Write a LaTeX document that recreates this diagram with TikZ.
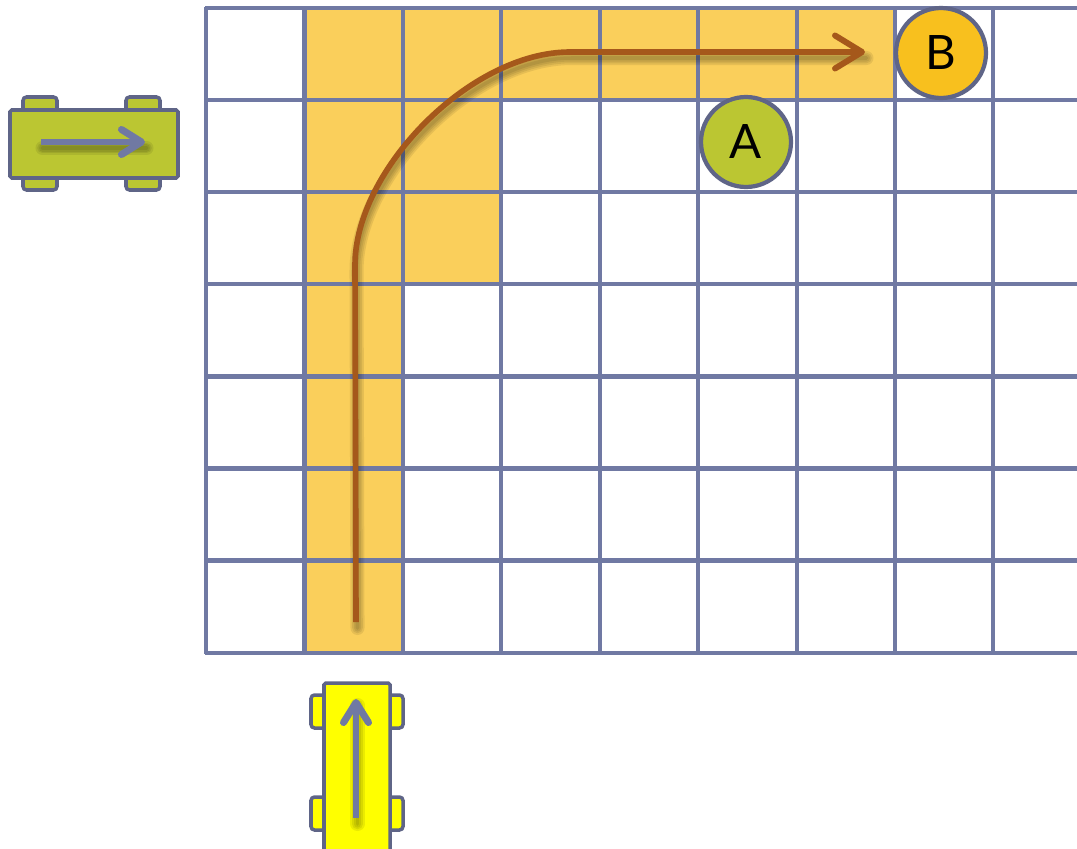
\documentclass[tikz,border=0pt]{standalone}
\usepackage{fontspec}
\setmainfont{Lato}
\usetikzlibrary{arrows.meta}
\definecolor{GridBlue}{HTML}{7079A3}
\definecolor{Edge}{HTML}{5F6587}
\definecolor{Cell}{HTML}{FACF5B}
\definecolor{Route}{HTML}{A5581B}
\definecolor{Olive}{HTML}{BBC632}
\definecolor{Amber}{HTML}{F8C01E}
\definecolor{CarYellow}{HTML}{FFFF00}
\tikzset{
  wheel/.style={draw=Edge,line width=2pt,rounded corners=2pt},
  carbody/.style={draw=Edge,line width=2pt,rounded corners=1pt},
  marker/.style={circle,draw=Edge,line width=2.4pt,minimum size=1.8cm,inner sep=0pt,font=\fontsize{27}{27}\selectfont},
  routeline/.style={Route,line width=3.2pt},
  routehead/.style={-{Straight Barb[length=0.54cm,width=0.66cm,line width=3.4pt,round]}},
  cararrow/.style={GridBlue,line width=3.2pt,-{Straight Barb[length=0.4cm,width=0.5cm,line width=4pt,round]}},
  blur/.style={black,opacity=0.08,line cap=round,transform canvas={xshift=0.03cm,yshift=-0.12cm}}
}
\begin{document}
\begin{tikzpicture}[x=0.02cm,y=-0.02cm]
  \useasboundingbox (0,0) rectangle (1077,848);
  \clip (0,0) rectangle (1077,848);
  % shaded cells along the route
  \fill[Cell] (304,8) rectangle (403,653);
  \fill[Cell] (403,8) rectangle (501,284);
  \fill[Cell] (501,8) rectangle (895,100);
  % grid
  \foreach \x in {206,304.5,403,501,600,698,797,895,993}
    \draw[GridBlue,line width=2.3pt] (\x,7)--(\x,654);
  \foreach \y in {8,100,192,284,376.5,468.5,560.5,653}
    \draw[GridBlue,line width=2.3pt] (205,\y)--(1077,\y);
  % route
  \coordinate (routestart) at (356,622);
  \coordinate (bendin) at (355,265);
  \coordinate (bendout) at (570,52);
  \coordinate (routeend) at (865,52);
  \foreach \w in {2,4,6,8}
    \draw[blur,line width=\w pt] (routestart)--(bendin)
      .. controls (355,170) and (470,52) .. (bendout)--(routeend);
  \draw[routeline,routehead] (routestart)--(bendin)
    .. controls (355,170) and (470,52) .. (bendout)--(routeend);
  % markers
  \node[marker,fill=Olive] (markerA) at (746,142) {A};
  \node[marker,fill=Amber] (markerB) at (941,53) {B};
  % car on the left
  \foreach \x in {23,126} {
    \fill[Olive,wheel] (\x,97) rectangle (\x+34,116);
    \fill[Olive,wheel] (\x,172) rectangle (\x+34,190);
  }
  \fill[Olive,carbody] (10,110) rectangle (178,178);
  \coordinate (leftback) at (41,142);
  \coordinate (leftfront) at (145,142);
  \foreach \w in {2,4,6,8}
    \draw[blur,line width=\w pt] (leftback)--(leftfront);
  \draw[cararrow] (leftback)--(leftfront);
  % car below the grid
  \foreach \y in {695,797} {
    \fill[CarYellow,wheel] (311,\y) rectangle (330,\y+33);
    \fill[CarYellow,wheel] (384,\y) rectangle (403,\y+33);
  }
  \fill[CarYellow,carbody] (324,683) rectangle (390,860);
  \coordinate (lowback) at (356,818);
  \coordinate (lowfront) at (356,699);
  \foreach \w in {2,4,6,8}
    \draw[blur,line width=\w pt] (lowback)--(lowfront);
  \draw[cararrow] (lowback)--(lowfront);
\end{tikzpicture}
\end{document}
